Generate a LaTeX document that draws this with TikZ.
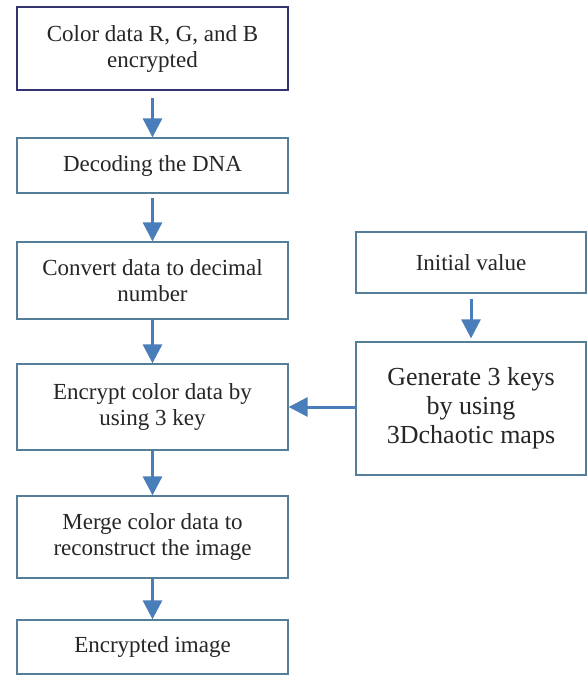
\documentclass[tikz,border=0pt]{standalone}
\usepackage{fontspec}
\setmainfont{Liberation Serif}
\usetikzlibrary{arrows.meta}
\definecolor{navyb}{HTML}{34346E}
\definecolor{boxb}{HTML}{557F98}
\definecolor{arrc}{HTML}{4A7EBB}
\begin{document}
\begin{tikzpicture}[x=1pt,y=-1pt,
  box/.style={draw=boxb, line width=1.3pt, fill=white, inner sep=0pt, align=center,
    font=\fontsize{23}{26}\selectfont, text=black!85},
  arr/.style={draw=arrc, line width=3pt, -{Triangle[width=19pt,length=19pt]}}]
\useasboundingbox (0,0) rectangle (588,675);
\fill[white] (0,0) rectangle (588,675);
\node[box, draw=navyb, minimum width=271pt, minimum height=83pt] (b1) at (152.5,48.5) {Color data R, G, and B\\encrypted};
\node[box, minimum width=271pt, minimum height=55pt] (b2) at (152.5,165.5) {Decoding the DNA};
\node[box, minimum width=271pt, minimum height=77pt] (b3) at (152.5,280.5) {Convert data to decimal\\number};
\node[box, minimum width=271pt, minimum height=86pt] (b4) at (152.5,407) {Encrypt color data by\\using 3 key};
\node[box, minimum width=271pt, minimum height=82pt] (b5) at (152.5,537) {Merge color data to\\reconstruct the image};
\node[box, minimum width=271pt, minimum height=54pt] (b6) at (152.5,647) {Encrypted image};
\node[box, minimum width=230pt, minimum height=61pt] (iv) at (471,262.5) {Initial value};
\node[box, minimum width=230pt, minimum height=133pt, font=\fontsize{26}{29}\selectfont] (gk) at (471,408.5) {Generate 3 keys\\by using\\3Dchaotic maps};
\draw[arr, shorten <=7pt] (b1) -- (b2);
\draw[arr, shorten <=4pt] (b2) -- (b3);
\draw[arr] (b3) -- (b4);
\draw[arr] (b4) -- (b5);
\draw[arr] (b5) -- (b6);
\draw[arr, shorten <=5pt, shorten >=3pt] (iv) -- (gk);
\draw[arr] (b4.east -| gk.west) -- (b4.east);
\end{tikzpicture}
\end{document}
